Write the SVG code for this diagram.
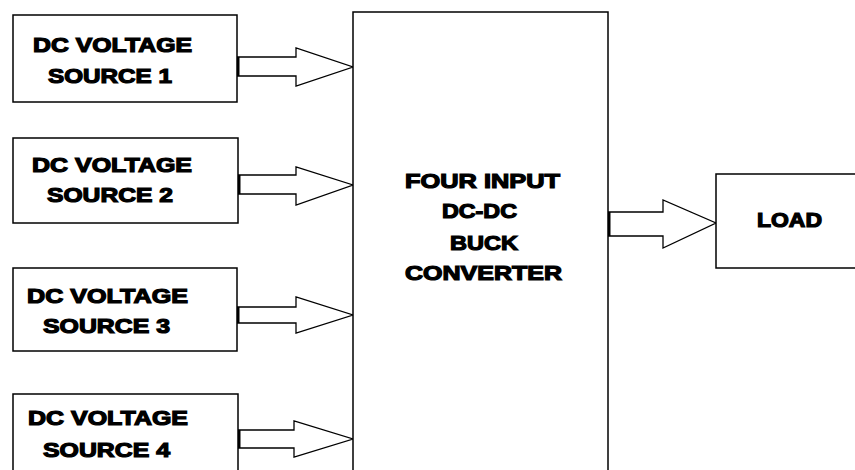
<svg xmlns="http://www.w3.org/2000/svg" width="855" height="470" viewBox="0 0 855 470">
<style>
.box{fill:#fff;stroke:#000;stroke-width:1.5}
.t{font-family:"Liberation Sans",Arial,sans-serif;font-weight:bold;font-size:20px;fill:#000;stroke:#000;stroke-width:1.2}
.arr{fill:#fff;stroke:#000;stroke-width:1.3;stroke-linejoin:miter}
.stub{stroke:#000;stroke-width:3}
</style>
<rect width="855" height="470" fill="#fff"/>
<g id="connectors">
<polygon class="arr" points="237,57 296,57 296,48 353,67 296,86 296,76 237,76"/>
<line class="stub" x1="238" y1="57" x2="238" y2="76"/>
<polygon class="arr" points="238,175 296,175 296,167 353,185 296,205 296,194 238,194"/>
<line class="stub" x1="239" y1="175" x2="239" y2="194"/>
<polygon class="arr" points="237,307 296,307 296,297 353,315 296,333 296,323 237,323"/>
<line class="stub" x1="238" y1="307" x2="238" y2="323"/>
<polygon class="arr" points="238,430 294,430 294,421 353,439 294,457 294,448 238,448"/>
<line class="stub" x1="239" y1="430" x2="239" y2="448"/>
<polygon class="arr" points="608,212 663,212 663,200 716,223 663,248 663,236 608,236"/>
<line class="stub" x1="609" y1="212" x2="609" y2="236"/>
</g>
<g id="src1">
<rect class="box" x="13" y="15" width="224" height="87"/>
<text class="t" x="33" y="52" textLength="159" lengthAdjust="spacingAndGlyphs">DC VOLTAGE</text>
<text class="t" x="48" y="83" textLength="124" lengthAdjust="spacingAndGlyphs">SOURCE 1</text>
</g>
<g id="src2">
<rect class="box" x="13" y="138" width="225" height="85"/>
<text class="t" x="32" y="172" textLength="160" lengthAdjust="spacingAndGlyphs">DC VOLTAGE</text>
<text class="t" x="47" y="202" textLength="126" lengthAdjust="spacingAndGlyphs">SOURCE 2</text>
</g>
<g id="src3">
<rect class="box" x="13" y="268" width="224" height="83"/>
<text class="t" x="27" y="303" textLength="161" lengthAdjust="spacingAndGlyphs">DC VOLTAGE</text>
<text class="t" x="43" y="333" textLength="127" lengthAdjust="spacingAndGlyphs">SOURCE 3</text>
</g>
<g id="src4">
<rect class="box" x="13" y="394" width="225" height="90"/>
<text class="t" x="28" y="425" textLength="160" lengthAdjust="spacingAndGlyphs">DC VOLTAGE</text>
<text class="t" x="43" y="457" textLength="127" lengthAdjust="spacingAndGlyphs">SOURCE 4</text>
</g>
<g id="converter">
<rect class="box" x="353" y="12" width="255" height="470"/>
<text class="t" x="405" y="188" textLength="155" lengthAdjust="spacingAndGlyphs">FOUR INPUT</text>
<text class="t" x="442" y="218" textLength="75" lengthAdjust="spacingAndGlyphs">DC-DC</text>
<text class="t" x="450" y="250" textLength="68" lengthAdjust="spacingAndGlyphs">BUCK</text>
<text class="t" x="405" y="280" textLength="157" lengthAdjust="spacingAndGlyphs">CONVERTER</text>
</g>
<g id="load">
<rect class="box" x="716" y="174" width="160" height="94"/>
<text class="t" x="757" y="227" textLength="65" lengthAdjust="spacingAndGlyphs">LOAD</text>
</g>
</svg>
